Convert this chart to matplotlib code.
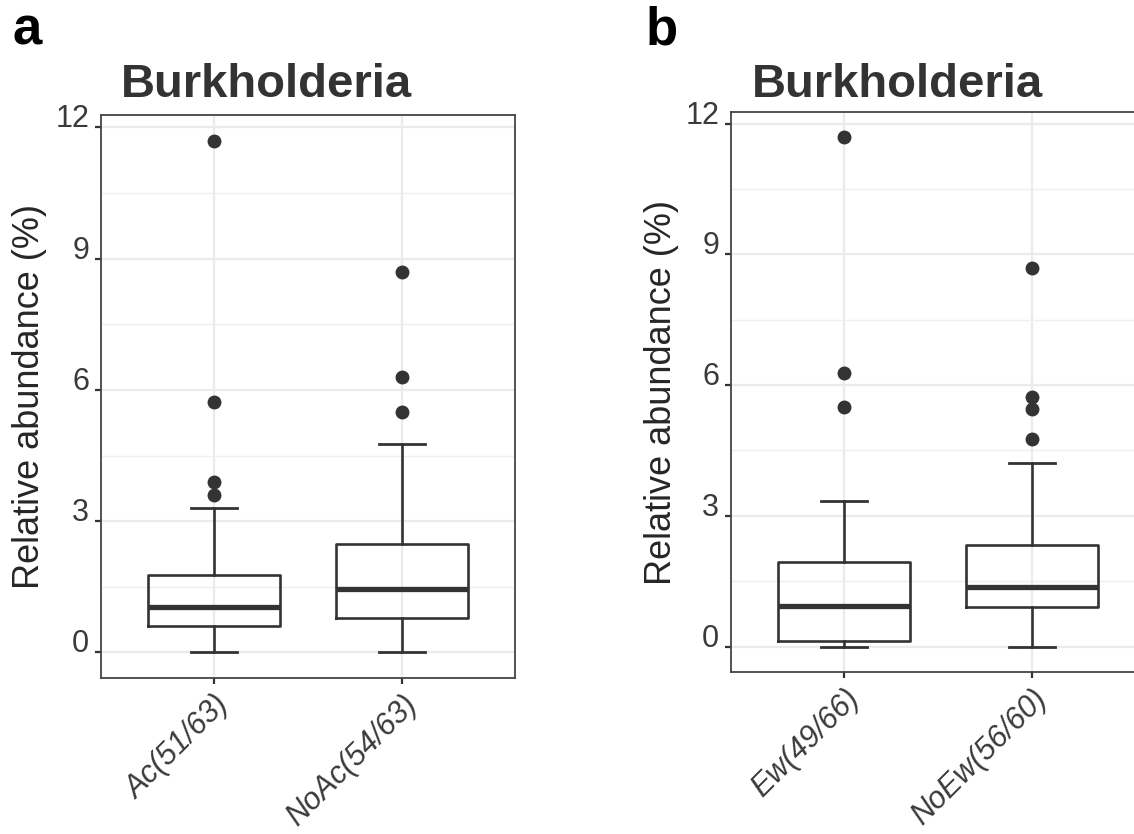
import matplotlib
matplotlib.use('Agg')
import matplotlib.pyplot as plt
from matplotlib.transforms import ScaledTranslation

plt.rcParams['font.family'] = ['Liberation Sans', 'DejaVu Sans']

# panel a: Ac vs NoAc
groups_a = ['Ac(51/63)', 'NoAc(54/63)']
q1_a = [0.60, 0.78]
med_a = [1.04, 1.45]
q3_a = [1.76, 2.48]
lo_a = [0.0, 0.0]
hi_a = [3.31, 4.77]
fliers_a = [[11.70, 5.73, 3.89, 3.59], [8.69, 6.30, 5.49]]

# panel b: Ew vs NoEw
groups_b = ['Ew(49/66)', 'NoEw(56/60)']
q1_b = [0.12, 0.90]
med_b = [0.93, 1.37]
q3_b = [1.94, 2.33]
lo_b = [0.0, 0.0]
hi_b = [3.33, 4.22]
fliers_b = [[11.68, 6.28, 5.49], [8.68, 5.73, 5.46, 4.76]]

title = 'Burkholderia'
ylab = 'Relative abundance (%)'
dark = '#333333'


def draw_panel(ax, labels, q1, med, q3, lo, hi, fliers):
    stats = []
    for i in range(len(labels)):
        stats.append(dict(q1=q1[i], med=med[i], q3=q3[i], whislo=lo[i],
                          whishi=hi[i], fliers=fliers[i], label=labels[i]))
    ax.bxp(stats, positions=[1, 2], widths=0.7, capwidths=0.245,
           boxprops=dict(color=dark, linewidth=1.9),
           whiskerprops=dict(color=dark, linewidth=1.9),
           capprops=dict(color=dark, linewidth=2.0),
           medianprops=dict(color=dark, linewidth=3.8),
           flierprops=dict(marker='o', markerfacecolor=dark,
                           markeredgecolor=dark, markersize=9),
           zorder=3)

    # y range with ggplot-like 5% expansion
    top = max(max(f) for f in fliers)
    bot = min(lo)
    pad = (top - bot) * 0.05
    ax.set_ylim(bot - pad, top + pad)
    ax.set_xlim(0.4, 2.6)

    ax.set_yticks([0, 3, 6, 9, 12])
    ax.set_yticks([1.5, 4.5, 7.5, 10.5], minor=True)
    ax.set_xticks([1, 2])
    ax.set_xticklabels(labels, rotation=45, ha='right', va='top',
                       rotation_mode='anchor', style='italic',
                       fontsize=22, color='#3A3A3A')
    for lab in ax.get_xticklabels():
        lab.set_transform(lab.get_transform() +
                          ScaledTranslation(13 / 72, -2 / 72, ax.figure.dpi_scale_trans))
    ax.tick_params(axis='y', labelsize=22, labelcolor='#3A3A3A')
    for lab in ax.get_yticklabels():
        lab.set_verticalalignment('baseline')
    ax.tick_params(which='major', length=4.5, width=1.6, color=dark, pad=4)
    ax.tick_params(which='minor', length=0)

    ax.grid(which='major', color='#EBEBEB', linewidth=1.6, zorder=0)
    ax.grid(which='minor', axis='y', color='#EFEFEF', linewidth=1.0, zorder=0)
    ax.set_axisbelow(True)
    for s in ax.spines.values():
        s.set_color('#444444')
        s.set_linewidth(1.3)
    ax.set_ylabel(ylab, fontsize=26, color='#262626', va='center')


fig = plt.figure(figsize=(11.34, 8.34), dpi=100)

ax_a = fig.add_axes([0.0891, 0.1871, 0.3651, 0.675])
draw_panel(ax_a, groups_a, q1_a, med_a, q3_a, lo_a, hi_a, fliers_a)
ax_a.yaxis.set_label_coords(-0.172, 0.5)

ax_b = fig.add_axes([0.6446, 0.1942, 0.3651, 0.6715])
draw_panel(ax_b, groups_b, q1_b, med_b, q3_b, lo_b, hi_b, fliers_b)
ax_b.yaxis.set_label_coords(-0.167, 0.5)

fig.text(0.2346, 0.884, title, ha='center', va='baseline', fontsize=34,
         fontweight='bold', color=dark)
fig.text(0.791, 0.884, title, ha='center', va='baseline', fontsize=34,
         fontweight='bold', color=dark)
fig.text(0.0106, 0.947, 'a', ha='left', va='baseline', fontsize=38,
         fontweight='bold', color='black')
fig.text(0.569, 0.947, 'b', ha='left', va='baseline', fontsize=38,
         fontweight='bold', color='black')

fig.savefig('out.png', dpi=100)
